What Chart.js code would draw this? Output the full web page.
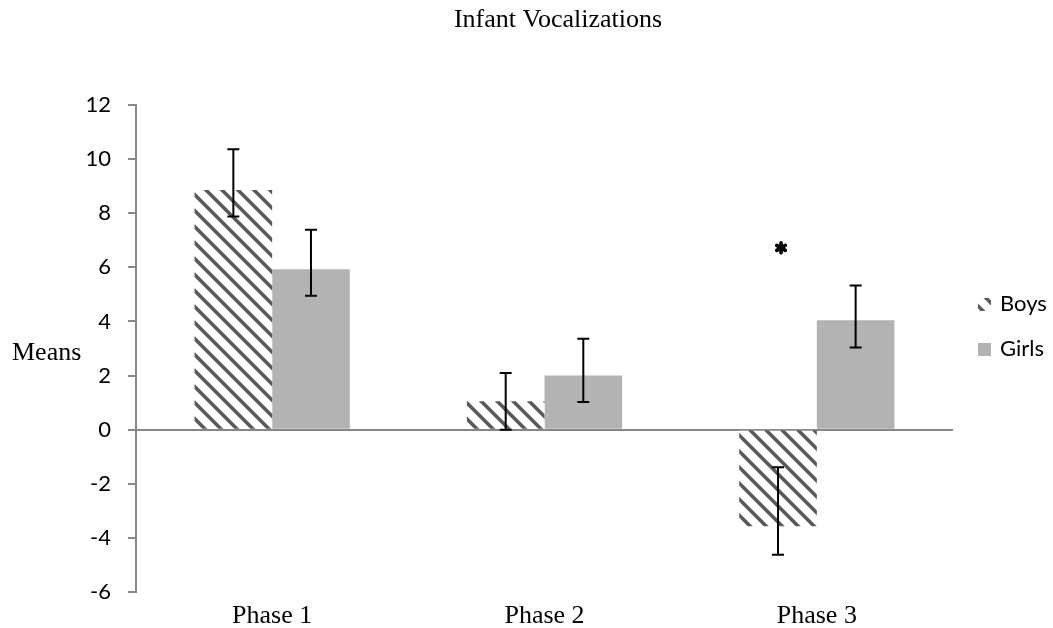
<!DOCTYPE html>
<html>
<head>
<meta charset="utf-8">
<script src="https://cdn.jsdelivr.net/npm/chart.js@4"></script>
<style>
  html, body { margin: 0; padding: 0; background: #fff; }
  #wrap { width: 1053px; height: 628px; }
</style>
</head>
<body>
<div id="wrap"><canvas id="chart" width="1053" height="628"></canvas></div>
<script>
const categories = ["Phase 1", "Phase 2", "Phase 3"];
const seriesNames = ["Boys", "Girls"];
const boys = [8.86, 1.05, -3.57];
const girls = [5.93, 2.0, 4.04];
const boysErrLow = [7.88, 0.0, -4.62];
const boysErrHigh = [10.36, 2.09, -1.39];
const girlsErrLow = [4.95, 1.02, 3.04];
const girlsErrHigh = [7.39, 3.36, 5.33];
const starMarks = [null, null, 6.72];   // significance marker over Boys bars
const yMin = -6, yMax = 12, yStep = 2;

const AXIS_GREY = "#878787";
const SERIF = "'Liberation Serif', 'Times New Roman', serif";
const SANS = "Lato, 'Liberation Sans', sans-serif";

// diagonal hatch like the Excel pattern fill
function makeStripes()
{
    const c = document.createElement("canvas");
    c.width = 16; c.height = 16;
    const g = c.getContext("2d");
    g.fillStyle = "#fff";
    g.fillRect(0, 0, 16, 16);
    g.strokeStyle = "#5a5a5a";
    g.lineWidth = 3.6;
    g.beginPath();
    g.moveTo(-4, -4); g.lineTo(20, 20);
    g.moveTo(-4, 12); g.lineTo(4, 20);
    g.moveTo(12, -4); g.lineTo(20, 4);
    g.stroke();
    return g.createPattern(c, "repeat");
}
const stripes = makeStripes();
const girlsColor = "#b3b3b3";

const errLow = [boysErrLow, girlsErrLow];
const errHigh = [boysErrHigh, girlsErrHigh];

const extras = {
    id: "extras",
    afterDatasetsDraw(chart) {
        const ctx = chart.ctx;
        const y = chart.scales.y;
        ctx.save();
        // error bars
        ctx.strokeStyle = "#000";
        ctx.lineWidth = 2;
        chart.data.datasets.forEach((ds, di) => {
            chart.getDatasetMeta(di).data.forEach((bar, i) => {
                const x = bar.x;
                const y1 = y.getPixelForValue(errLow[di][i]);
                const y2 = y.getPixelForValue(errHigh[di][i]);
                ctx.beginPath();
                ctx.moveTo(x, y1); ctx.lineTo(x, y2);
                ctx.moveTo(x - 6, y1); ctx.lineTo(x + 6, y1);
                ctx.moveTo(x - 6, y2); ctx.lineTo(x + 6, y2);
                ctx.stroke();
            });
        });
        // significance asterisk
        chart.getDatasetMeta(0).data.forEach((bar, i) => {
            if (starMarks[i] == null) return;
            const cx = bar.x + 3, cy = y.getPixelForValue(starMarks[i]);
            ctx.lineCap = "round";
            ctx.lineWidth = 3.6;
            ctx.beginPath();
            for (let a = 0; a < 3; a++) {
                const ang = Math.PI / 2 + a * Math.PI / 3;
                ctx.moveTo(cx + Math.cos(ang) * 5, cy + Math.sin(ang) * 5);
                ctx.lineTo(cx - Math.cos(ang) * 5, cy - Math.sin(ang) * 5);
            }
            ctx.stroke();
            ctx.beginPath();
            ctx.fillStyle = "#000";
            ctx.arc(cx, cy, 3.5, 0, Math.PI * 2);
            ctx.fill();
        });
        ctx.restore();
    },
    afterDraw(chart) {
        const ctx = chart.ctx;
        const area = chart.chartArea;
        ctx.save();
        ctx.fillStyle = "#000";
        // title
        ctx.font = "26px " + SERIF;
        ctx.textAlign = "center";
        ctx.textBaseline = "alphabetic";
        ctx.fillText("Infant Vocalizations", 558, 27);
        // y axis label, horizontal
        ctx.textAlign = "left";
        ctx.fillText("Means", 12, 360);
        // legend
        ctx.font = "22px " + SANS;
        ctx.textBaseline = "middle";
        chart.data.datasets.forEach((ds, i) => {
            const ly = 304 + i * 45;
            const lx = area.right + 25;
            ctx.fillStyle = ds.backgroundColor;
            ctx.fillRect(lx, ly - 6, 13, 13);
            ctx.fillStyle = "#000";
            ctx.fillText(ds.label, lx + 22, ly);
        });
        ctx.restore();
    }
};

new Chart(document.getElementById("chart"), {
    type: "bar",
    data: {
        labels: categories,
        datasets: [
            { label: seriesNames[0], data: boys, backgroundColor: stripes, borderWidth: 0 },
            { label: seriesNames[1], data: girls, backgroundColor: girlsColor, borderWidth: 0 }
        ]
    },
    options: {
        responsive: false,
        animation: false,
        events: [],
        layout: { padding: { left: 80, right: 100, top: 105, bottom: 0 } },
        datasets: { bar: { categoryPercentage: 0.57, barPercentage: 1 } },
        plugins: {
            legend: { display: false },
            title: { display: false },
            tooltip: { enabled: false }
        },
        scales: {
            x: {
                afterFit: s => { s.height = 36; },
                grid: { display: false, drawTicks: false },
                border: { display: false },
                ticks: {
                    color: "#000",
                    padding: 11,
                    font: { family: SERIF, size: 26, lineHeight: 1 }
                }
            },
            y: {
                min: yMin,
                max: yMax,
                afterFit: s => { s.width = 56; },
                border: { color: AXIS_GREY, width: 2 },
                grid: {
                    drawOnChartArea: true,
                    color: c => (c.tick && c.tick.value === 0) ? AXIS_GREY : "transparent",
                    lineWidth: 2,
                    tickColor: AXIS_GREY,
                    tickLength: 8
                },
                ticks: {
                    stepSize: yStep,
                    color: "#000",
                    padding: 17,
                    font: { family: SANS, size: 22 }
                }
            }
        }
    },
    plugins: [extras]
});
</script>
</body>
</html>
